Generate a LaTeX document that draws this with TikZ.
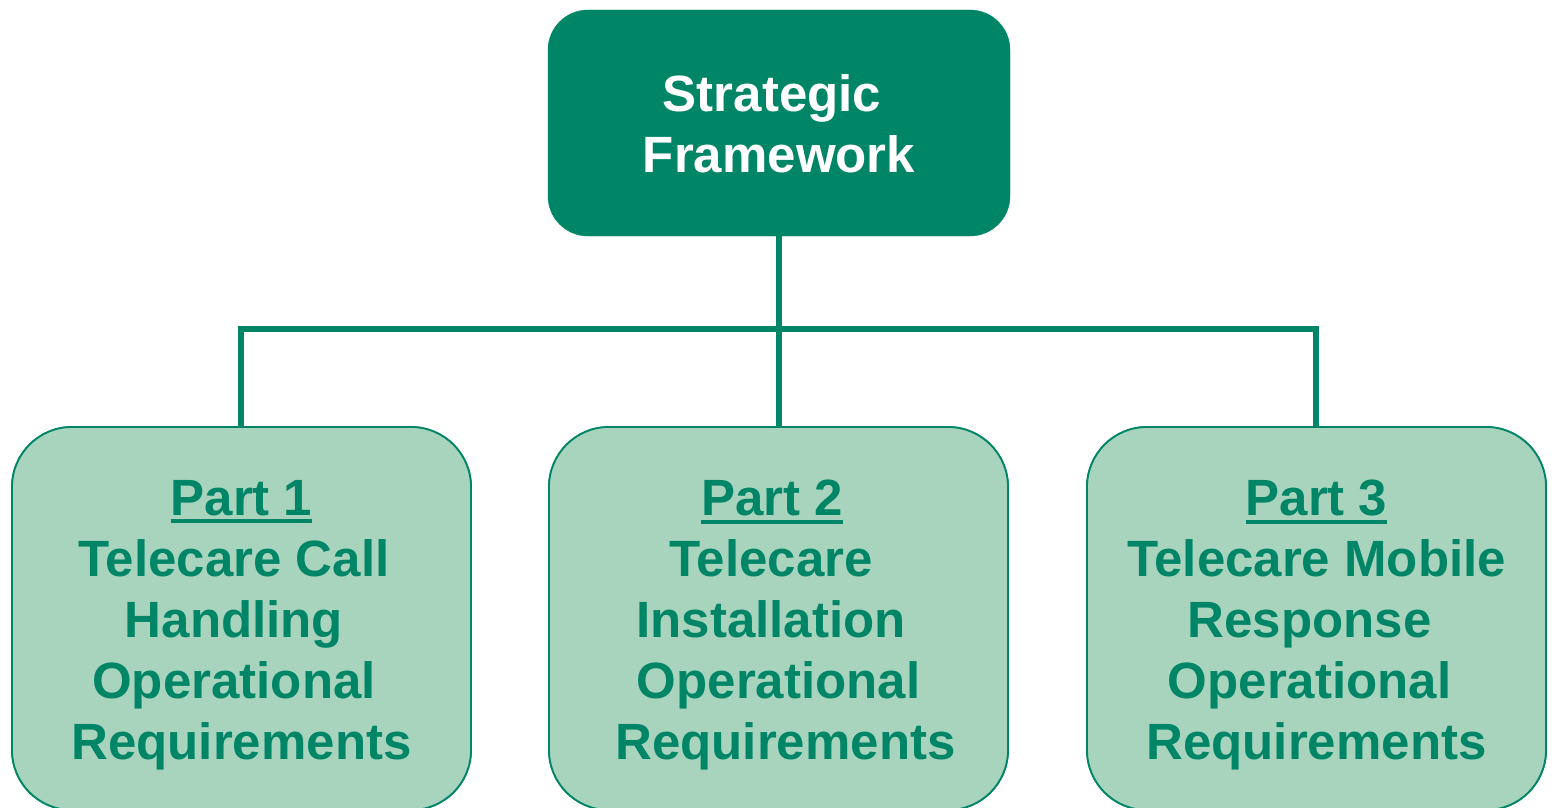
\documentclass[tikz,border=0pt]{standalone}
\usepackage{fontspec}
\setmainfont{Liberation Sans}
\definecolor{dkgreen}{RGB}{0,134,102}
\definecolor{ltgreen}{RGB}{168,212,190}
\newcommand\thickul[1]{\setbox0\hbox{#1}\rlap{\rule[-8pt]{\wd0}{4pt}}\box0}
\newcommand\shl[2]{#2\hbox to #1{}}
\newcommand\shr[2]{\hbox to #1{}#2}
\tikzset{
  topbox/.style={rectangle, rounded corners=40pt, fill=dkgreen, draw=dkgreen, minimum width=462pt, minimum height=226pt, inner sep=0pt},
  partbox/.style={rectangle, rounded corners=60pt, fill=ltgreen, draw=dkgreen, line width=1.8pt, minimum width=459pt, minimum height=383pt, inner sep=0pt},
  toptext/.style={align=center, text=white, font=\fontsize{51}{61}\selectfont\bfseries, inner sep=0pt},
  parttext/.style={align=center, text=dkgreen, font=\fontsize{51}{61}\selectfont\bfseries, inner sep=0pt},
  conn/.style={draw=dkgreen, line width=6pt}
}
\begin{document}
\begin{tikzpicture}[x=1pt,y=-1pt]
\useasboundingbox (0,0) rectangle (1552,808);
\node[topbox] (sf) at (779,123) {};
\node[toptext] (sft) at (779,123.5) {\shl{14pt}{Strategic}\\Framework};
\node[partbox] (p1) at (241.5,618.5) {};
\node[partbox] (p2) at (778.5,618.5) {};
\node[partbox] (p3) at (1316.5,618.5) {};
\coordinate (j) at (779,329);
\path[conn] (sf.south) -- (j);
\path[conn] (p1.north -| 241,0) |- (j);
\path[conn] (p3.north -| 1316,0) |- (j);
\path[conn] (j) -- (p2.north -| 779,0);
\node[partbox] at (p1) {};
\node[partbox] at (p2) {};
\node[partbox] at (p3) {};
\node[parttext] (t1) at (241.5,625) {\thickul{Part 1}\\\shl{15pt}{Telecare Call}\\\shl{15pt}{Handling}\\\shl{15pt}{Operational}\\Requirements};
\node[parttext] (t2) at (778.5,625) {\shl{13pt}{\thickul{Part 2}}\\\shl{15pt}{Telecare}\\\shl{15pt}{Installation}\\Operational\\\shr{14pt}{Requirements}};
\node[parttext] (t3) at (1316.5,625) {\thickul{Part 3}\\Telecare Mobile\\\shl{14pt}{Response}\\\shl{14pt}{Operational}\\Requirements};
\end{tikzpicture}
\end{document}
